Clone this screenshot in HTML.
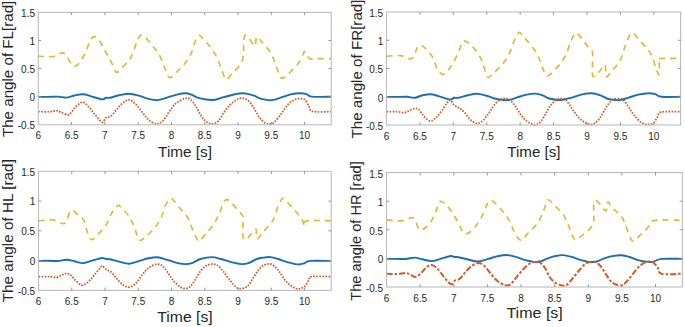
<!DOCTYPE html><html><head><meta charset="utf-8"><style>html,body{margin:0;padding:0;background:#fff;width:685px;height:327px;overflow:hidden}svg{display:block;font-family:"Liberation Sans",sans-serif}</style></head><body>
<svg width="685" height="327" viewBox="0 0 685 327">
<rect width="685" height="327" fill="#fff"/>
<clipPath id="c0"><rect x="37.3" y="9.4" width="294.9" height="118.4"/></clipPath>
<g clip-path="url(#c0)" fill="none" stroke-linejoin="round">
<path d="M38 56C40.42 56.1 48.5 57.13 52.5 56.6C56.5 56.07 59.67 52.97 62 52.8C64.33 52.63 65.08 53.9 66.5 55.6C67.92 57.3 69.37 61.22 70.5 63C71.63 64.78 72.3 65.88 73.3 66.3C74.3 66.72 75.38 66.22 76.5 65.5C77.62 64.78 78.83 63.5 80 62C81.17 60.5 82.42 58.42 83.5 56.5C84.58 54.58 85.5 53 86.5 50.5C87.5 48 88.5 43.67 89.5 41.5C90.5 39.33 91.42 38.25 92.5 37.5C93.58 36.75 94.8 36.42 96 37C97.2 37.58 98.45 39.08 99.7 41C100.95 42.92 102.2 46.17 103.5 48.5C104.8 50.83 106.08 52.5 107.5 55C108.92 57.5 110.67 60.75 112 63.5C113.33 66.25 114.5 70.08 115.5 71.5C116.5 72.92 116.92 72.58 118 72C119.08 71.42 120.5 69.58 122 68C123.5 66.42 125.58 64.17 127 62.5C128.42 60.83 129.37 60 130.5 58C131.63 56 132.5 53.83 133.8 50.5C135.1 47.17 136.92 40.58 138.3 38C139.68 35.42 140.7 34.87 142.1 35C143.5 35.13 144.78 36.77 146.7 38.8C148.62 40.83 151.43 44.4 153.6 47.2C155.77 50 157.88 52.22 159.7 55.6C161.52 58.98 162.87 63.85 164.5 67.5C166.13 71.15 167.45 76.75 169.5 77.5C171.55 78.25 174.18 74.43 176.8 72C179.42 69.57 182.78 66.08 185.2 62.9C187.62 59.72 189.65 56.47 191.3 52.9C192.95 49.33 193.83 44.42 195.1 41.5C196.37 38.58 197.75 36.05 198.9 35.4C200.05 34.75 200.33 35.95 202 37.6C203.67 39.25 206.62 42.37 208.9 45.3C211.18 48.23 213.8 51.75 215.7 55.2C217.6 58.65 218.82 62.32 220.3 66C221.78 69.68 223.43 75.13 224.6 77.3C225.77 79.47 226.08 79.62 227.3 79C228.52 78.38 229.6 76.18 231.9 73.6C234.2 71.02 239.17 67.02 241.1 63.5C243.03 59.98 243.1 56.32 243.5 52.5C243.9 48.68 243.13 43.5 243.5 40.6C243.87 37.7 244.72 35.4 245.7 35.1C246.68 34.8 247.87 36.97 249.4 38.8C250.93 40.63 253.68 46.42 254.9 46.1C256.12 45.78 255.48 37.52 256.7 36.9C257.92 36.28 259.9 39.8 262.2 42.4C264.5 45 268.32 48.97 270.5 52.5C272.68 56.03 273.7 59.62 275.3 63.6C276.9 67.58 278.87 73.97 280.1 76.4C281.33 78.83 281.32 78.65 282.7 78.2C284.08 77.75 285.93 75.98 288.4 73.7C290.87 71.42 295.07 67.72 297.5 64.5C299.93 61.28 301.77 56.55 303 54.4C304.23 52.25 303.82 50.9 304.9 51.6C305.98 52.3 307.67 57.43 309.5 58.6C311.33 59.77 312.32 58.6 315.9 58.6C319.48 58.6 328.48 58.6 331 58.6" stroke="#E6B733" stroke-width="1.7" stroke-dasharray="6 5"/>
<path d="M38.3 96.8C40.05 96.82 45.55 96.93 48.8 96.9C52.05 96.87 54.8 96.48 57.8 96.6C60.8 96.72 64.02 97.78 66.8 97.6C69.58 97.42 71.82 96.07 74.5 95.5C77.18 94.93 80.12 94.07 82.9 94.2C85.68 94.33 88 95.43 91.2 96.3C94.4 97.17 99.63 99.15 102.1 99.4C104.57 99.65 104.72 98.07 106 97.8C107.28 97.53 107.63 98.22 109.8 97.8C111.97 97.38 115.75 95.98 119 95.3C122.25 94.62 125.88 93.6 129.3 93.7C132.72 93.8 136.3 95.03 139.5 95.9C142.7 96.77 145.5 98.2 148.5 98.9C151.5 99.6 154.5 100.28 157.5 100.1C160.5 99.92 163.28 98.72 166.5 97.8C169.72 96.88 173.6 95.35 176.8 94.6C180 93.85 183.27 93.3 185.7 93.3C188.13 93.3 189.17 93.78 191.4 94.6C193.63 95.42 195.47 97.3 199.1 98.2C202.73 99.1 209.13 100.17 213.2 100C217.27 99.83 219.82 98.17 223.5 97.2C227.18 96.23 232.05 94.85 235.3 94.2C238.55 93.55 240 93.12 243 93.3C246 93.48 250.73 94.55 253.3 95.3C255.87 96.05 256.58 97.12 258.4 97.8C260.22 98.48 261.95 99.02 264.2 99.4C266.45 99.78 268.9 100.47 271.9 100.1C274.9 99.73 278.98 98.18 282.2 97.2C285.42 96.22 288.22 94.85 291.2 94.2C294.18 93.55 297.53 93.3 300.1 93.3C302.67 93.3 304.67 93.65 306.6 94.2C308.53 94.75 307.63 96.17 311.7 96.6C315.77 97.03 327.78 96.77 331 96.8" stroke="#1A6FB0" stroke-width="1.9"/>
<path d="M38.3 111.6C40.05 111.62 45.77 111.85 48.8 111.7C51.83 111.55 54.57 110.65 56.5 110.7C58.43 110.75 58.58 111.32 60.4 112C62.22 112.68 65.68 114.6 67.4 114.8C69.12 115 69.52 114.32 70.7 113.2C71.88 112.08 73.02 109.7 74.5 108.1C75.98 106.5 78.1 104.57 79.6 103.6C81.1 102.63 82 101.77 83.5 102.3C85 102.83 86.68 104.77 88.6 106.8C90.52 108.83 92.75 111.93 95 114.5C97.25 117.07 100.27 121.67 102.1 122.2C103.93 122.73 104.6 118.65 106 117.7C107.4 116.75 108.77 117.78 110.5 116.5C112.23 115.22 114.35 112.25 116.4 110C118.45 107.75 120.65 104.7 122.8 103C124.95 101.3 127.15 99.58 129.3 99.8C131.45 100.02 133.57 102.27 135.7 104.3C137.83 106.33 139.97 109.43 142.1 112C144.23 114.57 146.15 117.7 148.5 119.7C150.85 121.7 153.85 123.78 156.2 124C158.55 124.22 160.47 123 162.6 121C164.73 119 166.85 114.9 169 112C171.15 109.1 172.92 105.85 175.5 103.6C178.08 101.35 182.07 99.25 184.5 98.5C186.93 97.75 188.3 97.93 190.1 99.1C191.9 100.27 193.58 102.93 195.3 105.5C197.02 108.07 198.7 111.92 200.4 114.5C202.1 117.08 203.57 119.42 205.5 121C207.43 122.58 209.85 124 212 124C214.15 124 216.48 122.8 218.4 121C220.32 119.2 221.58 115.88 223.5 113.2C225.42 110.52 227.77 107.13 229.9 104.9C232.03 102.67 234.37 100.93 236.3 99.8C238.23 98.67 239.57 98 241.5 98.1C243.43 98.2 245.98 98.95 247.9 100.4C249.82 101.85 251.23 104.2 253 106.8C254.77 109.4 256.67 113.43 258.5 116C260.33 118.57 262.12 120.87 264 122.2C265.88 123.53 268.08 124 269.8 124C271.52 124 272.32 124 274.3 122.2C276.28 120.4 279.4 116.18 281.7 113.2C284 110.22 285.97 106.53 288.1 104.3C290.23 102.07 292.58 100.77 294.5 99.8C296.42 98.83 297.88 98.5 299.6 98.5C301.32 98.5 303.3 98.63 304.8 99.8C306.3 100.97 307.32 103.58 308.6 105.5C309.88 107.42 308.77 110.28 312.5 111.3C316.23 112.32 327.92 111.55 331 111.6" stroke="#D65A24" stroke-width="1.8" stroke-dasharray="1.6 1.4"/>
</g>
<rect x="38.3" y="12.4" width="292.9" height="112.4" fill="none" stroke="#bcbcbc" stroke-width="1.1"/>
<path d="M71.58 124.8v-2.8M71.58 12.4v2.8M104.87 124.8v-2.8M104.87 12.4v2.8M138.15 124.8v-2.8M138.15 12.4v2.8M171.44 124.8v-2.8M171.44 12.4v2.8M204.72 124.8v-2.8M204.72 12.4v2.8M238 124.8v-2.8M238 12.4v2.8M271.29 124.8v-2.8M271.29 12.4v2.8M304.57 124.8v-2.8M304.57 12.4v2.8M38.3 96.7h2.8M331.2 96.7h-2.8M38.3 68.6h2.8M331.2 68.6h-2.8M38.3 40.5h2.8M331.2 40.5h-2.8" stroke="#8a8a8a" stroke-width="0.9" fill="none"/>
<g fill="#262626" font-size="10"><text x="38.3" y="139.1" text-anchor="middle">6</text><text x="71.58" y="139.1" text-anchor="middle">6.5</text><text x="104.87" y="139.1" text-anchor="middle">7</text><text x="138.15" y="139.1" text-anchor="middle">7.5</text><text x="171.44" y="139.1" text-anchor="middle">8</text><text x="204.72" y="139.1" text-anchor="middle">8.5</text><text x="238" y="139.1" text-anchor="middle">9</text><text x="271.29" y="139.1" text-anchor="middle">9.5</text><text x="304.57" y="139.1" text-anchor="middle">10</text><text x="35" y="129.2" text-anchor="end">-0.5</text><text x="35" y="101.1" text-anchor="end">0</text><text x="35" y="73" text-anchor="end">0.5</text><text x="35" y="44.9" text-anchor="end">1</text><text x="35" y="16.8" text-anchor="end">1.5</text></g>
<text transform="translate(185 156.8) scale(1.02 1.02)" text-anchor="middle" font-size="15" fill="#262626">Time [s]</text>
<text transform="translate(13.4 68.9) rotate(-90)" text-anchor="middle" font-size="15.15" fill="#262626">The angle of FL[rad]</text>
<clipPath id="c1"><rect x="385.5" y="9" width="296.1" height="119"/></clipPath>
<g clip-path="url(#c1)" fill="none" stroke-linejoin="round">
<path d="M386.6 56.2C388.92 56.1 396.65 55.15 400.5 55.6C404.35 56.05 407.55 58.65 409.7 58.9C411.85 59.15 412.1 59.08 413.4 57.1C414.7 55.12 416.32 48.97 417.5 47C418.68 45.03 419.25 45.13 420.5 45.3C421.75 45.47 422.98 46.03 425 48C427.02 49.97 430.57 53.6 432.6 57.1C434.63 60.6 435.52 66.1 437.2 69C438.88 71.9 441.02 74.18 442.7 74.5C444.38 74.82 445.62 72.73 447.3 70.9C448.98 69.07 450.97 66.57 452.8 63.5C454.63 60.43 456.72 55.93 458.3 52.5C459.88 49.07 461.17 44.8 462.3 42.9C463.43 41 463.87 40.93 465.1 41.1C466.33 41.27 467.72 42.07 469.7 43.9C471.68 45.73 474.87 49.05 477 52.1C479.13 55.15 481 58.55 482.5 62.2C484 65.85 485 71.45 486 74C487 76.55 487.33 77.58 488.5 77.5C489.67 77.42 490.63 75.75 493 73.5C495.37 71.25 500.02 67.27 502.7 64C505.38 60.73 507.27 57.57 509.1 53.9C510.93 50.23 512.17 45.45 513.7 42C515.23 38.55 517.07 34.57 518.3 33.2C519.53 31.83 519.57 32.48 521.1 33.8C522.63 35.12 525.02 38.05 527.5 41.1C529.98 44.15 533.82 48.58 536 52.1C538.18 55.62 539.22 58.83 540.6 62.2C541.98 65.57 543.23 70 544.3 72.3C545.37 74.6 545.63 76 547 76C548.37 76 550.35 74.3 552.5 72.3C554.65 70.3 557.6 67.07 559.9 64C562.2 60.93 564.47 57.72 566.3 53.9C568.13 50.08 569.53 44.45 570.9 41.1C572.27 37.75 573.28 34.93 574.5 33.8C575.72 32.67 576.67 33.08 578.2 34.3C579.73 35.52 581.87 38.75 583.7 41.1C585.53 43.45 587.72 46.42 589.2 48.4C590.68 50.38 592.03 48.47 592.6 53C593.17 57.53 591.6 72.37 592.6 75.6C593.6 78.83 596.53 74.18 598.6 72.4C600.67 70.62 603.77 64.18 605 64.9C606.23 65.62 604.93 75.63 606 76.7C607.07 77.77 609.07 73.97 611.4 71.3C613.73 68.63 617.68 64.97 620 60.7C622.32 56.43 623.35 50.35 625.3 45.7C627.25 41.05 629.38 33.7 631.7 32.8C634.02 31.9 636.7 37.8 639.2 40.3C641.7 42.8 644.57 45.12 646.7 47.8C648.83 50.48 650.57 53.37 652 56.4C653.43 59.43 654.15 62.97 655.3 66C656.45 69.03 658.2 75.67 658.9 74.6C659.6 73.53 659.22 62.28 659.5 59.6C659.78 56.92 657.1 58.68 660.6 58.5C664.1 58.32 677.18 58.5 680.5 58.5" stroke="#E6B733" stroke-width="1.7" stroke-dasharray="6 5"/>
<path d="M386.6 96.9C388.3 96.9 393.38 96.92 396.8 96.9C400.22 96.88 404.1 96.65 407.1 96.8C410.1 96.95 412.23 98.05 414.8 97.8C417.37 97.55 419.82 95.9 422.5 95.3C425.18 94.7 428.12 94.03 430.9 94.2C433.68 94.37 436 95.42 439.2 96.3C442.4 97.18 447.63 99.25 450.1 99.5C452.57 99.75 452.6 98.08 454 97.8C455.4 97.52 456.22 98.22 458.5 97.8C460.78 97.38 464.67 95.98 467.7 95.3C470.73 94.62 473.7 93.67 476.7 93.7C479.7 93.73 482.7 94.7 485.7 95.5C488.7 96.3 491.72 97.75 494.7 98.5C497.68 99.25 501.03 99.78 503.6 100C506.17 100.22 507.73 100.27 510.1 99.8C512.47 99.33 515.02 98.07 517.8 97.2C520.58 96.33 523.93 95.2 526.8 94.6C529.67 94 532.35 93.48 535 93.6C537.65 93.72 540.35 94.48 542.7 95.3C545.05 96.12 546.1 97.72 549.1 98.5C552.1 99.28 557.07 100.12 560.7 100C564.33 99.88 567.48 98.7 570.9 97.8C574.32 96.9 577.77 95.35 581.2 94.6C584.63 93.85 588.28 93.18 591.5 93.3C594.72 93.42 597.93 94.43 600.5 95.3C603.07 96.17 604.98 97.8 606.9 98.5C608.82 99.2 609.97 99.23 612 99.5C614.03 99.77 616.42 100.38 619.1 100.1C621.78 99.82 624.88 98.72 628.1 97.8C631.32 96.88 634.93 95.35 638.4 94.6C641.87 93.85 646.08 93.37 648.9 93.3C651.72 93.23 653.17 93.62 655.3 94.2C657.43 94.78 657.5 96.37 661.7 96.8C665.9 97.23 677.37 96.8 680.5 96.8" stroke="#1A6FB0" stroke-width="1.9"/>
<path d="M386.6 111.7C388.3 111.7 393.82 111.55 396.8 111.7C399.78 111.85 402.35 112.82 404.5 112.6C406.65 112.38 407.98 111.08 409.7 110.4C411.42 109.72 413.3 108.67 414.8 108.5C416.3 108.33 417.42 108.4 418.7 109.4C419.98 110.4 421.02 112.78 422.5 114.5C423.98 116.22 426.1 118.63 427.6 119.7C429.1 120.77 430 121.33 431.5 120.9C433 120.47 434.88 118.8 436.6 117.1C438.32 115.4 440.08 113.05 441.8 110.7C443.52 108.35 445.52 104.77 446.9 103C448.28 101.23 448.82 99.68 450.1 100.1C451.38 100.52 453 104.17 454.6 105.5C456.2 106.83 457.95 106.82 459.7 108.1C461.45 109.38 463.33 111.27 465.1 113.2C466.87 115.13 468.37 118.02 470.3 119.7C472.23 121.38 474.78 122.98 476.7 123.3C478.62 123.62 480.08 122.85 481.8 121.6C483.52 120.35 485.28 118.05 487 115.8C488.72 113.55 490.4 110.45 492.1 108.1C493.8 105.75 495.28 103.3 497.2 101.7C499.12 100.1 501.67 98.93 503.6 98.5C505.53 98.07 507.08 98.13 508.8 99.1C510.52 100.07 512.2 102.15 513.9 104.3C515.6 106.45 517.28 109.55 519 112C520.72 114.45 522.27 117.08 524.2 119C526.13 120.92 528.72 122.58 530.6 123.5C532.48 124.42 533.92 124.72 535.5 124.5C537.08 124.28 538.47 123.87 540.1 122.2C541.73 120.53 543.58 117.28 545.3 114.5C547.02 111.72 548.48 107.95 550.4 105.5C552.32 103.05 554.87 100.97 556.8 99.8C558.73 98.63 560.5 98.5 562 98.5C563.5 98.5 564.32 98.42 565.8 99.8C567.28 101.18 569.18 104.35 570.9 106.8C572.62 109.25 574.17 112.13 576.1 114.5C578.03 116.87 580.15 119.33 582.5 121C584.85 122.67 588.07 124.18 590.2 124.5C592.33 124.82 593.58 124.13 595.3 122.9C597.02 121.67 598.78 119.57 600.5 117.1C602.22 114.63 603.93 110.7 605.6 108.1C607.27 105.5 608.88 103.03 610.5 101.5C612.12 99.97 613.65 99.33 615.3 98.9C616.95 98.47 618.9 98.55 620.4 98.9C621.9 99.25 622.8 99.47 624.3 101C625.8 102.53 627.7 105.63 629.4 108.1C631.1 110.57 632.57 113.45 634.5 115.8C636.43 118.15 638.85 120.73 641 122.2C643.15 123.67 645.32 124.48 647.4 124.6C649.48 124.72 651.85 124.15 653.5 122.9C655.15 121.65 656.02 118.92 657.3 117.1C658.58 115.28 657.33 112.9 661.2 112C665.07 111.1 677.28 111.75 680.5 111.7" stroke="#D65A24" stroke-width="1.8" stroke-dasharray="1.6 1.4"/>
</g>
<rect x="386.5" y="12" width="294.1" height="113" fill="none" stroke="#bcbcbc" stroke-width="1.1"/>
<path d="M419.92 125v-2.8M419.92 12v2.8M453.34 125v-2.8M453.34 12v2.8M486.76 125v-2.8M486.76 12v2.8M520.18 125v-2.8M520.18 12v2.8M553.6 125v-2.8M553.6 12v2.8M587.02 125v-2.8M587.02 12v2.8M620.44 125v-2.8M620.44 12v2.8M653.86 125v-2.8M653.86 12v2.8M386.5 96.75h2.8M680.6 96.75h-2.8M386.5 68.5h2.8M680.6 68.5h-2.8M386.5 40.25h2.8M680.6 40.25h-2.8" stroke="#8a8a8a" stroke-width="0.9" fill="none"/>
<g fill="#262626" font-size="10"><text x="386.5" y="139.8" text-anchor="middle">6</text><text x="419.92" y="139.8" text-anchor="middle">6.5</text><text x="453.34" y="139.8" text-anchor="middle">7</text><text x="486.76" y="139.8" text-anchor="middle">7.5</text><text x="520.18" y="139.8" text-anchor="middle">8</text><text x="553.6" y="139.8" text-anchor="middle">8.5</text><text x="587.02" y="139.8" text-anchor="middle">9</text><text x="620.44" y="139.8" text-anchor="middle">9.5</text><text x="653.86" y="139.8" text-anchor="middle">10</text><text x="383.2" y="129.9" text-anchor="end">-0.5</text><text x="383.2" y="101.65" text-anchor="end">0</text><text x="383.2" y="73.4" text-anchor="end">0.5</text><text x="383.2" y="45.15" text-anchor="end">1</text><text x="383.2" y="16.9" text-anchor="end">1.5</text></g>
<text transform="translate(533.9 157.2) scale(1.01 1)" text-anchor="middle" font-size="15" fill="#262626">Time [s]</text>
<text transform="translate(362 69) rotate(-90)" text-anchor="middle" font-size="15.15" fill="#262626">The angle of FR[rad]</text>
<clipPath id="c2"><rect x="37.5" y="168.3" width="294.7" height="125.1"/></clipPath>
<g clip-path="url(#c2)" fill="none" stroke-linejoin="round">
<path d="M38.6 220.8C40.92 220.65 48.5 219.45 52.5 219.9C56.5 220.35 60.3 223.2 62.6 223.5C64.9 223.8 65.15 223.53 66.3 221.7C67.45 219.87 68.5 214.4 69.5 212.5C70.5 210.6 70.97 209.98 72.3 210.3C73.63 210.62 75.6 212.8 77.5 214.4C79.4 216 82.12 217.13 83.7 219.9C85.28 222.67 85.73 227.73 87 231C88.27 234.27 89.72 238.67 91.3 239.5C92.88 240.33 94.1 238.35 96.5 236C98.9 233.65 103.2 229.15 105.7 225.4C108.2 221.65 109.48 216.8 111.5 213.5C113.52 210.2 116.13 206.53 117.8 205.6C119.47 204.67 119.65 206.13 121.5 207.9C123.35 209.67 126.75 212.98 128.9 216.2C131.05 219.42 132.88 223.48 134.4 227.2C135.92 230.92 136.87 236.32 138 238.5C139.13 240.68 139.9 240.62 141.2 240.3C142.5 239.98 143.58 238.63 145.8 236.6C148.02 234.57 151.97 231.2 154.5 228.1C157.03 225 159.15 221.82 161 218C162.85 214.18 164.08 208.4 165.6 205.2C167.12 202 168.73 199.57 170.1 198.8C171.47 198.03 172.02 198.85 173.8 200.6C175.58 202.35 178.47 206.4 180.8 209.3C183.13 212.2 185.87 214.72 187.8 218C189.73 221.28 190.87 225.48 192.4 229C193.93 232.52 195.92 237.1 197 239.1C198.08 241.1 197.52 241.77 198.9 241C200.28 240.23 202.87 237.27 205.3 234.5C207.73 231.73 211.22 227.75 213.5 224.4C215.78 221.05 217.32 218.07 219 214.4C220.68 210.73 222.22 204.85 223.6 202.4C224.98 199.95 225.92 199.55 227.3 199.7C228.68 199.85 229.92 201.32 231.9 203.3C233.88 205.28 237.37 209.45 239.2 211.6C241.03 213.75 242.27 214.83 242.9 216.2C243.53 217.57 242.98 216.38 243 219.8C243.02 223.22 242.5 233.38 243 236.7C243.5 240.02 244.85 239.87 246 239.7C247.15 239.53 248.25 237.47 249.9 235.7C251.55 233.93 254.73 228.6 255.9 229.1C257.07 229.6 255.9 237.93 256.9 238.7C257.9 239.47 260.08 235.7 261.9 233.7C263.72 231.7 265.82 229.18 267.8 226.7C269.78 224.22 272.13 222.1 273.8 218.8C275.47 215.5 276.63 209.88 277.8 206.9C278.97 203.92 279.88 202.3 280.8 200.9C281.72 199.5 281.82 197.83 283.3 198.5C284.78 199.17 287.3 202.35 289.7 204.9C292.1 207.45 295.55 211.15 297.7 213.8C299.85 216.45 301.45 218.7 302.6 220.8C303.75 222.9 303.93 226.4 304.6 226.4C305.27 226.4 302.17 221.73 306.6 220.8C311.03 219.87 327.1 220.8 331.2 220.8" stroke="#E6B733" stroke-width="1.7" stroke-dasharray="6 5"/>
<path d="M38.6 260.9C40.3 260.88 45.6 260.78 48.8 260.8C52 260.82 54.8 261.17 57.8 261C60.8 260.83 64.02 259.75 66.8 259.8C69.58 259.85 71.82 260.75 74.5 261.3C77.18 261.85 80.12 263.17 82.9 263.1C85.68 263.03 88 261.75 91.2 260.9C94.4 260.05 99.63 258.32 102.1 258C104.57 257.68 104.65 258.8 106 259C107.35 259.2 108.03 258.77 110.2 259.2C112.37 259.63 115.82 260.85 119 261.6C122.18 262.35 125.88 263.82 129.3 263.7C132.72 263.58 136.3 261.8 139.5 260.9C142.7 260 145.5 258.9 148.5 258.3C151.5 257.7 154.5 257.08 157.5 257.3C160.5 257.52 163.28 258.68 166.5 259.6C169.72 260.52 173.65 262.05 176.8 262.8C179.95 263.55 182.75 264.1 185.4 264.1C188.05 264.1 190.2 263.65 192.7 262.8C195.2 261.95 197.18 259.95 200.4 259C203.62 258.05 208.58 257.1 212 257.1C215.42 257.1 217.7 258.15 220.9 259C224.1 259.85 227.77 261.35 231.2 262.2C234.63 263.05 238.5 264 241.5 264.1C244.5 264.2 246.63 263.65 249.2 262.8C251.77 261.95 254.65 259.85 256.9 259C259.15 258.15 260.45 258.02 262.7 257.7C264.95 257.38 267.83 256.88 270.4 257.1C272.97 257.32 275.32 258.15 278.1 259C280.88 259.85 283.88 261.3 287.1 262.2C290.32 263.1 294.62 264.18 297.4 264.4C300.18 264.62 301.67 264.08 303.8 263.5C305.93 262.92 305.63 261.33 310.2 260.9C314.77 260.47 327.7 260.9 331.2 260.9" stroke="#1A6FB0" stroke-width="1.9"/>
<path d="M38.6 276.6C40.3 276.6 45.7 276.5 48.8 276.6C51.9 276.7 55.05 277.47 57.2 277.2C59.35 276.93 60.2 275.63 61.7 275C63.2 274.37 64.7 273.4 66.2 273.4C67.7 273.4 69.32 273.98 70.7 275C72.08 276.02 73.02 278 74.5 279.5C75.98 281 78.2 283.08 79.6 284C81 284.92 81.4 285.42 82.9 285C84.4 284.58 86.78 283.05 88.6 281.5C90.42 279.95 92.08 277.73 93.8 275.7C95.52 273.67 97.52 270.92 98.9 269.3C100.28 267.68 100.82 265.9 102.1 266C103.38 266.1 105.15 268.93 106.6 269.9C108.05 270.87 109.17 270.42 110.8 271.8C112.43 273.18 114.4 276.05 116.4 278.2C118.4 280.35 120.65 283.2 122.8 284.7C124.95 286.2 127.15 287.42 129.3 287.2C131.45 286.98 133.57 285.43 135.7 283.4C137.83 281.37 139.97 277.57 142.1 275C144.23 272.43 145.93 269.82 148.5 268C151.07 266.18 154.93 264.22 157.5 264.1C160.07 263.98 161.98 265.58 163.9 267.3C165.82 269.02 167.28 272.03 169 274.4C170.72 276.77 172.27 279.37 174.2 281.5C176.13 283.63 178.63 286.03 180.6 287.2C182.57 288.37 184.42 288.6 186 288.5C187.58 288.4 188.55 288.1 190.1 286.6C191.65 285.1 193.58 282.07 195.3 279.5C197.02 276.93 198.48 273.55 200.4 271.2C202.32 268.85 204.67 266.58 206.8 265.4C208.93 264.22 211.27 264 213.2 264.1C215.13 264.2 216.68 264.72 218.4 266C220.12 267.28 221.58 269.43 223.5 271.8C225.42 274.17 227.77 277.63 229.9 280.2C232.03 282.77 234.37 285.82 236.3 287.2C238.23 288.58 239.57 288.72 241.5 288.5C243.43 288.28 245.98 287.62 247.9 285.9C249.82 284.18 251.28 280.77 253 278.2C254.72 275.63 256.48 272.63 258.2 270.5C259.92 268.37 261.37 266.5 263.3 265.4C265.23 264.3 267.97 263.8 269.8 263.9C271.63 264 272.7 264.68 274.3 266C275.9 267.32 277.7 269.55 279.4 271.8C281.1 274.05 282.78 277.35 284.5 279.5C286.22 281.65 287.77 283.2 289.7 284.7C291.63 286.2 294.28 287.87 296.1 288.5C297.92 289.13 299.1 288.93 300.6 288.5C302.1 288.07 303.72 287.28 305.1 285.9C306.48 284.52 307.83 281.75 308.9 280.2C309.97 278.65 307.78 277.2 311.5 276.6C315.22 276 327.92 276.6 331.2 276.6" stroke="#D65A24" stroke-width="1.8" stroke-dasharray="1.6 1.4"/>
</g>
<rect x="38.5" y="171.3" width="292.7" height="119.1" fill="none" stroke="#bcbcbc" stroke-width="1.1"/>
<path d="M71.76 290.4v-2.8M71.76 171.3v2.8M105.02 290.4v-2.8M105.02 171.3v2.8M138.28 290.4v-2.8M138.28 171.3v2.8M171.55 290.4v-2.8M171.55 171.3v2.8M204.81 290.4v-2.8M204.81 171.3v2.8M238.07 290.4v-2.8M238.07 171.3v2.8M271.33 290.4v-2.8M271.33 171.3v2.8M304.59 290.4v-2.8M304.59 171.3v2.8M38.5 260.62h2.8M331.2 260.62h-2.8M38.5 230.85h2.8M331.2 230.85h-2.8M38.5 201.07h2.8M331.2 201.07h-2.8" stroke="#8a8a8a" stroke-width="0.9" fill="none"/>
<g fill="#262626" font-size="10"><text x="38.5" y="304.7" text-anchor="middle">6</text><text x="71.76" y="304.7" text-anchor="middle">6.5</text><text x="105.02" y="304.7" text-anchor="middle">7</text><text x="138.28" y="304.7" text-anchor="middle">7.5</text><text x="171.55" y="304.7" text-anchor="middle">8</text><text x="204.81" y="304.7" text-anchor="middle">8.5</text><text x="238.07" y="304.7" text-anchor="middle">9</text><text x="271.33" y="304.7" text-anchor="middle">9.5</text><text x="304.59" y="304.7" text-anchor="middle">10</text><text x="35.2" y="294.8" text-anchor="end">-0.5</text><text x="35.2" y="265.02" text-anchor="end">0</text><text x="35.2" y="235.25" text-anchor="end">0.5</text><text x="35.2" y="205.47" text-anchor="end">1</text><text x="35.2" y="175.7" text-anchor="end">1.5</text></g>
<text transform="translate(185 321.8) scale(1.05 0.99)" text-anchor="middle" font-size="15" fill="#262626">Time [s]</text>
<text transform="translate(12.5 230.7) rotate(-90)" text-anchor="middle" font-size="15.3" fill="#262626">The angle of HL [rad]</text>
<clipPath id="c3"><rect x="385.5" y="169.6" width="297.9" height="120.4"/></clipPath>
<g clip-path="url(#c3)" fill="none" stroke-linejoin="round">
<path d="M386.8 219.9C389.23 220.05 397.28 221.17 401.4 220.8C405.52 220.43 409.2 217.85 411.5 217.7C413.8 217.55 413.87 217.88 415.2 219.9C416.53 221.92 417.53 228.7 419.5 229.8C421.47 230.9 424.67 228.62 427 226.5C429.33 224.38 431.5 220.97 433.5 217.1C435.5 213.23 437.62 205.9 439 203.3C440.38 200.7 440.42 201.03 441.8 201.5C443.18 201.97 445.17 203.65 447.3 206.1C449.43 208.55 452.35 212.55 454.6 216.2C456.85 219.85 459.2 225.1 460.8 228C462.4 230.9 462.72 232.88 464.2 233.6C465.68 234.32 467.57 233.83 469.7 232.3C471.83 230.77 474.72 227.55 477 224.4C479.28 221.25 481.57 217.07 483.4 213.4C485.23 209.73 486.62 204.53 488 202.4C489.38 200.27 490.32 200.28 491.7 200.6C493.08 200.92 494.32 202.32 496.3 204.3C498.28 206.28 501.32 209.6 503.6 212.5C505.88 215.4 508.17 218.33 510 221.7C511.83 225.07 512.92 229.65 514.6 232.7C516.28 235.75 518.57 239.08 520.1 240C521.63 240.92 522.32 239.53 523.8 238.2C525.28 236.87 526.65 234.57 529 232C531.35 229.43 535.42 226.48 537.9 222.8C540.38 219.12 542.23 213.72 543.9 209.9C545.57 206.08 546.23 200.73 547.9 199.9C549.57 199.07 551.42 202.57 553.9 204.9C556.38 207.23 560.48 210.75 562.8 213.9C565.12 217.05 566.13 220 567.8 223.8C569.47 227.6 571.48 234.05 572.8 236.7C574.12 239.35 574.38 239.7 575.7 239.7C577.02 239.7 578.2 238.68 580.7 236.7C583.2 234.72 588.53 230.45 590.7 227.8C592.87 225.15 593.2 224.62 593.7 220.8C594.2 216.98 593.38 208.28 593.7 204.9C594.02 201.52 594.67 200.75 595.6 200.5C596.53 200.25 597.58 201.68 599.3 203.4C601.02 205.12 604.47 211.05 605.9 210.8C607.33 210.55 606.9 202.4 607.9 201.9C608.9 201.4 610.4 206.15 611.9 207.8C613.4 209.45 615.08 209.97 616.9 211.8C618.72 213.63 621.15 215.98 622.8 218.8C624.45 221.62 625.47 225.4 626.8 228.7C628.13 232 629.65 236.55 630.8 238.6C631.95 240.65 632.05 241.65 633.7 241C635.35 240.35 638.22 237.08 640.7 234.7C643.18 232.32 646.28 229.08 648.6 226.7C650.92 224.32 648.97 221.45 654.6 220.4C660.23 219.35 677.77 220.4 682.4 220.4" stroke="#E6B733" stroke-width="1.7" stroke-dasharray="6 5"/>
<path d="M386.6 258.9C388.3 258.9 393.6 258.88 396.8 258.9C400 258.92 402.8 259.22 405.8 259C408.8 258.78 412.02 257.55 414.8 257.6C417.58 257.65 419.72 258.72 422.5 259.3C425.28 259.88 428.72 261.1 431.5 261.1C434.28 261.1 435.98 260.15 439.2 259.3C442.42 258.45 448.33 256.38 450.8 256C453.27 255.62 452.72 256.8 454 257C455.28 257.2 456 256.73 458.5 257.2C461 257.67 465.75 259.08 469 259.8C472.25 260.52 474.8 261.65 478 261.5C481.2 261.35 484.78 259.82 488.2 258.9C491.62 257.98 495.28 256.63 498.5 256C501.72 255.37 504.5 254.9 507.5 255.1C510.5 255.3 513.5 256.35 516.5 257.2C519.5 258.05 522.58 259.42 525.5 260.2C528.42 260.98 531.57 261.68 534 261.9C536.43 262.12 537.8 262.1 540.1 261.5C542.4 260.9 545.23 259.22 547.8 258.3C550.37 257.38 552.93 256.53 555.5 256C558.07 255.47 560.63 254.98 563.2 255.1C565.77 255.22 568.12 255.92 570.9 256.7C573.68 257.48 576.9 258.93 579.9 259.8C582.9 260.67 586.12 261.62 588.9 261.9C591.68 262.18 594.03 262.1 596.6 261.5C599.17 260.9 601.68 259.2 604.3 258.3C606.92 257.4 609.4 256.6 612.3 256.1C615.2 255.6 618.85 255.15 621.7 255.3C624.55 255.45 626.83 256.25 629.4 257C631.97 257.75 634.53 259.05 637.1 259.8C639.67 260.55 642.23 261.15 644.8 261.5C647.37 261.85 649.72 262.33 652.5 261.9C655.28 261.47 656.52 259.4 661.5 258.9C666.48 258.4 678.92 258.9 682.4 258.9" stroke="#1A6FB0" stroke-width="1.9"/>
<path d="M386.6 273.7C388.3 273.77 393.6 274.22 396.8 274.1C400 273.98 403.65 272.97 405.8 273C407.95 273.03 408.08 273.65 409.7 274.3C411.32 274.95 413.58 277.12 415.5 276.9C417.42 276.68 419.38 274.6 421.2 273C423.02 271.4 424.68 268.65 426.4 267.3C428.12 265.95 429.8 264.8 431.5 264.9C433.2 265 434.68 266.12 436.6 267.9C438.52 269.68 441.07 273.25 443 275.6C444.93 277.95 446.7 280.57 448.2 282C449.7 283.43 450.93 284.42 452 284.2C453.07 283.98 453.32 281.6 454.6 280.7C455.88 279.8 457.95 280.18 459.7 278.8C461.45 277.42 463.12 274.53 465.1 272.4C467.08 270.27 469.35 267.55 471.6 266C473.85 264.45 476.47 263.1 478.6 263.1C480.73 263.1 482.37 264.23 484.4 266C486.43 267.77 488.67 271.25 490.8 273.7C492.93 276.15 494.85 278.78 497.2 280.7C499.55 282.62 502.75 284.55 504.9 285.2C507.05 285.85 508.38 285.67 510.1 284.6C511.82 283.53 513.28 281.05 515.2 278.8C517.12 276.55 519.47 273.45 521.6 271.1C523.73 268.75 526.07 266.2 528 264.7C529.93 263.2 531.18 262.42 533.2 262.1C535.22 261.78 538.08 261.73 540.1 262.8C542.12 263.87 543.8 266.27 545.3 268.5C546.8 270.73 547.6 273.95 549.1 276.2C550.6 278.45 552.15 280.45 554.3 282C556.45 283.55 559.87 285.07 562 285.5C564.13 285.93 565.4 285.72 567.1 284.6C568.8 283.48 570.28 281.05 572.2 278.8C574.12 276.55 576.45 273.57 578.6 271.1C580.75 268.63 583.17 265.53 585.1 264C587.03 262.47 588.5 262.22 590.2 261.9C591.9 261.58 593.58 261.42 595.3 262.1C597.02 262.78 598.78 264.07 600.5 266C602.22 267.93 603.95 271.23 605.6 273.7C607.25 276.17 608.8 279.05 610.4 280.8C612 282.55 613.43 283.42 615.2 284.2C616.97 284.98 619.28 285.75 621 285.5C622.72 285.25 623.67 284.45 625.5 282.7C627.33 280.95 629.85 277.57 632 275C634.15 272.43 636.27 269.4 638.4 267.3C640.53 265.2 643.1 263.37 644.8 262.4C646.5 261.43 647.32 261.58 648.6 261.5C649.88 261.42 651 260.93 652.5 261.9C654 262.87 656.1 265.33 657.6 267.3C659.1 269.27 657.37 272.63 661.5 273.7C665.63 274.77 678.92 273.7 682.4 273.7" stroke="#D65A24" stroke-width="2.0" stroke-dasharray="6 1.9 2.6 1.9"/>
</g>
<rect x="386.5" y="172.6" width="295.9" height="114.4" fill="none" stroke="#bcbcbc" stroke-width="1.1"/>
<path d="M420.12 287v-2.8M420.12 172.6v2.8M453.75 287v-2.8M453.75 172.6v2.8M487.38 287v-2.8M487.38 172.6v2.8M521 287v-2.8M521 172.6v2.8M554.62 287v-2.8M554.62 172.6v2.8M588.25 287v-2.8M588.25 172.6v2.8M621.88 287v-2.8M621.88 172.6v2.8M655.5 287v-2.8M655.5 172.6v2.8M386.5 258.4h2.8M682.4 258.4h-2.8M386.5 229.8h2.8M682.4 229.8h-2.8M386.5 201.2h2.8M682.4 201.2h-2.8" stroke="#8a8a8a" stroke-width="0.9" fill="none"/>
<g fill="#262626" font-size="10"><text x="386.5" y="301.9" text-anchor="middle">6</text><text x="420.12" y="301.9" text-anchor="middle">6.5</text><text x="453.75" y="301.9" text-anchor="middle">7</text><text x="487.38" y="301.9" text-anchor="middle">7.5</text><text x="521" y="301.9" text-anchor="middle">8</text><text x="554.62" y="301.9" text-anchor="middle">8.5</text><text x="588.25" y="301.9" text-anchor="middle">9</text><text x="621.88" y="301.9" text-anchor="middle">9.5</text><text x="655.5" y="301.9" text-anchor="middle">10</text><text x="383.2" y="292" text-anchor="end">-0.5</text><text x="383.2" y="263.4" text-anchor="end">0</text><text x="383.2" y="234.8" text-anchor="end">0.5</text><text x="383.2" y="206.2" text-anchor="end">1</text><text x="383.2" y="177.6" text-anchor="end">1.5</text></g>
<text transform="translate(534.6 317.5) scale(1.07 0.96)" text-anchor="middle" font-size="15" fill="#262626">Time [s]</text>
<text transform="translate(360.6 231) rotate(-90)" text-anchor="middle" font-size="14.6" fill="#262626">The angle of HR [rad]</text>
</svg></body></html>
